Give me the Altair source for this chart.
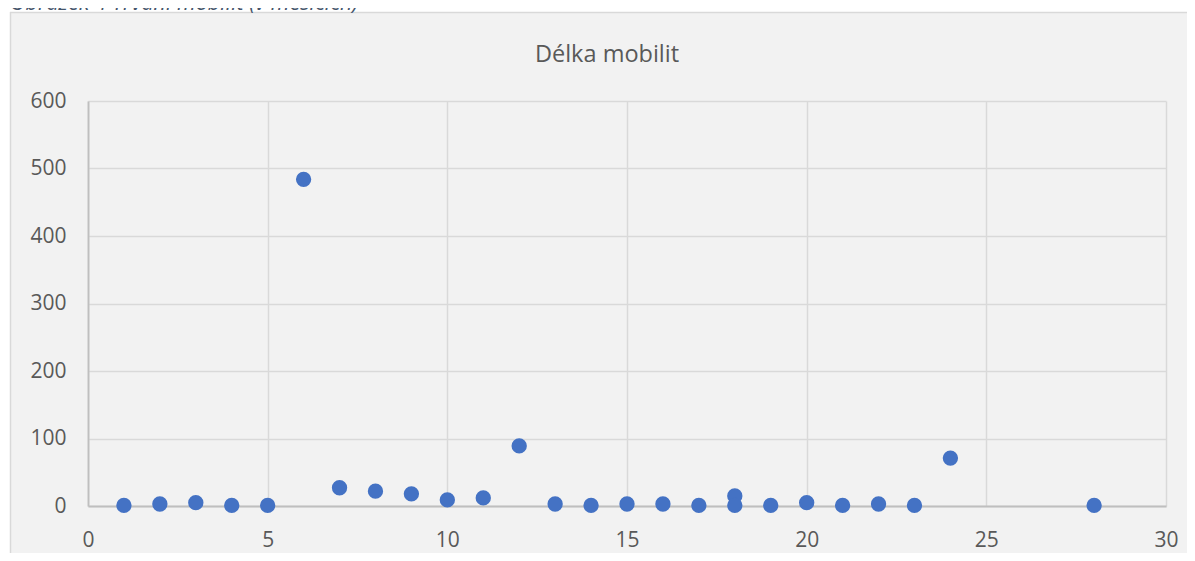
import altair as alt
import pandas as pd

# Data
months = [1, 2, 3, 4, 5, 6, 7, 8, 9, 10, 11, 12, 13, 14, 15, 16, 17, 18, 18, 19, 20, 21, 22, 23, 24, 28]
counts = [1, 3, 5, 1, 1, 484, 27, 22, 18, 9, 12, 89, 3, 1, 3, 3, 1, 15, 1, 1, 5, 1, 3, 1, 71, 1]
x_ticks = [0, 5, 10, 15, 20, 25, 30]
y_ticks = [0, 100, 200, 300, 400, 500, 600]
chart_title = "Délka mobilit"
caption = "Obrázek 4 Trvání mobilit (v měsících)"

W, H = 1078, 405
PAD_L, PAD_T, PAD_R, PAD_B = 80, 93, 21, 47

df = pd.DataFrame({"Měsíce": months, "Počet": counts})

label_font = "Open Sans"
label_color = "#595959"
label_size = 21

points = alt.Chart(df).mark_circle(size=235, color="#4472C4", opacity=1).encode(
    x=alt.X("Měsíce:Q",
            scale=alt.Scale(domain=[0, 30], nice=False, zero=False),
            axis=alt.Axis(values=x_ticks, title=None, ticks=False, labelPadding=23,
                          labelFlush=False, labelOverlap=False, grid=True,
                          labelFont=label_font, labelFontSize=label_size, labelColor=label_color,
                          gridColor="#d9d9d9", gridWidth=1.5,
                          domainColor="#bfbfbf", domainWidth=1.8)),
    y=alt.Y("Počet:Q",
            scale=alt.Scale(domain=[0, 600], nice=False),
            axis=alt.Axis(values=y_ticks, title=None, ticks=False, labelPadding=22,
                          labelOverlap=False, grid=True,
                          labelFont=label_font, labelFontSize=label_size, labelColor=label_color,
                          gridColor="#d9d9d9", gridWidth=1.5,
                          domainColor="#bfbfbf", domainWidth=1.8)),
)

# white strips outside the grey chart box (top and left)
strip_top = alt.Chart(pd.DataFrame({"a": [0]})).mark_rect(color="white").encode(
    x=alt.value(-PAD_L), x2=alt.value(W + PAD_R + 5),
    y=alt.value(-PAD_T), y2=alt.value(-PAD_T + 4),
)
strip_left = alt.Chart(pd.DataFrame({"a": [0]})).mark_rect(color="white").encode(
    x=alt.value(-PAD_L), x2=alt.value(-PAD_L + 2),
    y=alt.value(-PAD_T), y2=alt.value(H + PAD_B + 5),
)
border_top = alt.Chart(pd.DataFrame({"a": [0]})).mark_rule(color="#d9d9d9", strokeWidth=1.5).encode(
    x=alt.value(-PAD_L + 2), x2=alt.value(W + PAD_R + 5), y=alt.value(-PAD_T + 4.5),
)
border_left = alt.Chart(pd.DataFrame({"a": [0]})).mark_rule(color="#d9d9d9", strokeWidth=1.5).encode(
    x=alt.value(-PAD_L + 2.5), y=alt.value(-PAD_T + 4), y2=alt.value(H + PAD_B + 5),
)

caption_text = alt.Chart(pd.DataFrame({"t": [caption]})).mark_text(
    font=label_font, fontSize=21.5, fontStyle="italic", color="#44546A",
    align="left", baseline="alphabetic",
).encode(text="t:N", x=alt.value(-PAD_L + 2), y=alt.value(-PAD_T + 2))

title_text = alt.Chart(pd.DataFrame({"t": [chart_title]})).mark_text(
    font=label_font, fontSize=23.5, color=label_color, align="center", baseline="middle",
).encode(text="t:N", x=alt.value(519), y=alt.value(-46))

chart = alt.layer(
    strip_top, strip_left, border_top, border_left, points, title_text, caption_text
).properties(
    width=W, height=H,
    autosize=alt.AutoSizeParams(type="none"),
    padding={"left": PAD_L, "top": PAD_T, "right": PAD_R, "bottom": PAD_B},
    background="#f2f2f2",
).configure_view(
    strokeWidth=0,
)

chart.save("out.html", embed_options={"renderer": "svg", "actions": False})
